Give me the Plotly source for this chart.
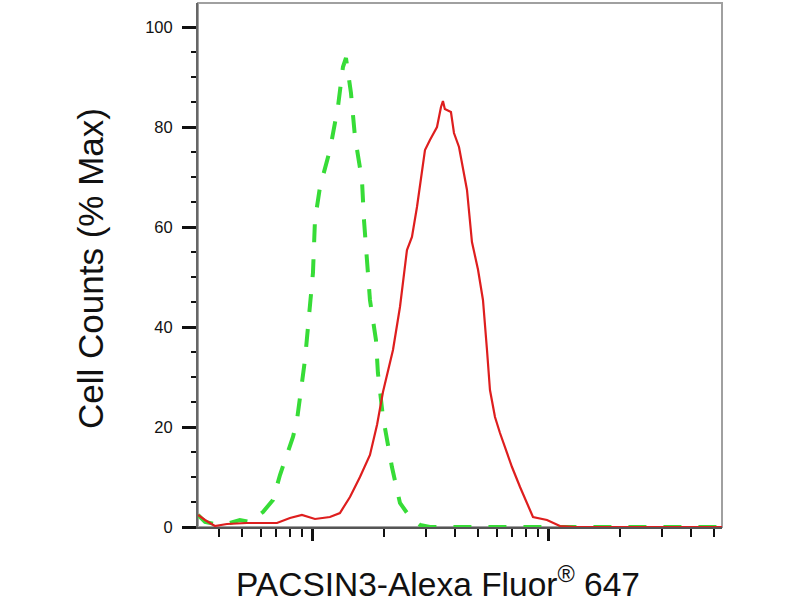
import plotly.graph_objects as go

# Isotype control (green, dashed) - intensity vs % max
ctrl_x = [326, 349, 384, 445, 490, 541, 614, 677, 725, 823, 856, 925, 1000,
          1020, 1071, 1180, 1276, 1340, 1380, 1449, 1507, 1613, 1645, 1694,
          1744, 1849, 1885, 1980, 2161, 2337, 2576, 2841, 3131, 10000, 54090]
ctrl_y = [2.4, 1.0, 0.6, 0.8, 1.4, 1.0, 3.0, 5.4, 10.4, 18.0, 21.4, 33.4, 50.8,
          61.4, 68.0, 75.4, 84.0, 92.0, 93.8, 86.8, 78.0, 69.4, 61.4, 53.4,
          45.4, 37.4, 30.8, 22.0, 12.0, 4.8, 2.0, 0.4, 0.0, 0.0, 0.0]

# PACSIN3 stained sample (red, solid)
pacsin_x = [326, 349, 384, 432, 525, 704, 799, 898, 1020, 1180, 1301, 1435,
            1582, 1744, 1870, 1980, 2183, 2337, 2502, 2627, 2759, 2897, 2983,
            3131, 3354, 3487, 3554, 3620, 3696, 3843, 3958, 4157, 4494, 4717,
            5003, 5252, 5462, 5623, 5905, 6200, 6970, 7539, 8555, 9806, 11130,
            13000, 54090]
pacsin_y = [2.4, 1.4, 0.2, 0.6, 0.8, 0.8, 1.8, 2.4, 1.6, 2.0, 2.8, 6.0,
            10.0, 14.4, 20.5, 27.0, 35.4, 44.0, 55.4, 58.0, 64.0, 70.8, 75.4,
            77.4, 80.0, 84.0, 85.2, 83.6, 83.4, 83.0, 78.8, 76.0, 67.4, 57.0,
            51.5, 45.4, 35.4, 27.4, 22.0, 18.8, 12.0, 8.0, 2.0, 1.4, 0.2,
            0.0, 0.0]

y_ticks = [0, 20, 40, 60, 80, 100]
x_major = [1000, 10000]
x_minor = [400, 500, 600, 700, 800, 900,
           2000, 3000, 4000, 5000, 6000, 7000, 8000, 9000,
           20000, 30000, 40000, 50000]

fig = go.Figure()

fig.add_trace(go.Scatter(
    x=ctrl_x, y=ctrl_y, mode="lines",
    line=dict(color="rgb(55,220,55)", width=4, dash="18px,17px"),
    showlegend=False))

fig.add_trace(go.Scatter(
    x=pacsin_x, y=pacsin_y, mode="lines",
    line=dict(color="rgb(222,30,30)", width=2.2),
    showlegend=False))

# gray frame on top/right
fig.add_shape(type="rect", xref="paper", yref="paper", x0=0, x1=1, y0=0, y1=1,
              line=dict(color="#a0a0a0", width=2), layer="below")

fig.update_layout(
    width=800, height=600,
    margin=dict(l=198, r=78, t=3, b=73),
    paper_bgcolor="white", plot_bgcolor="white",
    font=dict(family="Liberation Sans, Arial", color="#111"),
    xaxis=dict(
        type="log", range=[2.513, 4.733],
        tickmode="array", tickvals=x_major, showticklabels=False,
        ticks="outside", ticklen=12, tickwidth=3, tickcolor="#111",
        minor=dict(tickmode="array", tickvals=x_minor, ticks="outside",
                   ticklen=8, tickwidth=2, tickcolor="#111", showgrid=False),
        showgrid=False, zeroline=False,
        showline=True, linecolor="#555", linewidth=2),
    yaxis=dict(
        range=[0, 104.8],
        tickmode="array", tickvals=y_ticks,
        ticks="outside", ticklen=14, tickwidth=3, tickcolor="#111",
        ticklabelstandoff=6,
        tickfont=dict(size=16.5, color="#111"),
        minor=dict(dtick=5, ticks="outside", ticklen=5, tickwidth=2,
                   tickcolor="#111", showgrid=False),
        showgrid=False, zeroline=False,
        showline=True, linecolor="#666", linewidth=2),
    annotations=[
        dict(text="PACSIN3-Alexa Fluor<sup>®</sup> 647", xref="paper", yref="paper",
             x=(438 - 198) / 524, y=-(582 - 527) / 524, xanchor="center", yanchor="middle",
             showarrow=False, font=dict(size=33.5, color="#111")),
        dict(text="Cell Counts (% Max)", xref="paper", yref="paper",
             x=-(198 - 90) / 524, y=(527 - 269) / 524, xanchor="center", yanchor="middle",
             textangle=-90, showarrow=False, font=dict(size=35, color="#111")),
    ],
)

fig.write_html("out.html", config={"displayModeBar": False},
               post_script="document.body.style.margin='0';")
